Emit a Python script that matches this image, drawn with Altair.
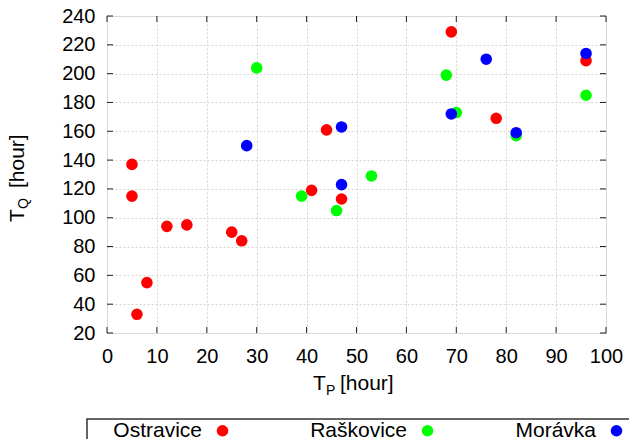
import altair as alt
import pandas as pd

# ---- data ----
ostravice_tp = [5, 5, 6, 8, 12, 16, 25, 27, 41, 44, 47, 69, 78, 96]
ostravice_tq = [137, 115, 33, 55, 94, 95, 90, 84, 119, 161, 113, 229, 169, 209]

raskovice_tp = [30, 39, 46, 53, 68, 70, 82, 96]
raskovice_tq = [204, 115, 105, 129, 199, 173, 157, 185]

moravka_tp = [28, 47, 47, 69, 76, 82, 96]
moravka_tq = [150, 163, 123, 172, 210, 159, 214]

series = ["Ostravice", "Raškovice", "Morávka"]
colors = ["#ff0000", "#00ff00", "#0000ff"]

x_ticks = [0, 10, 20, 30, 40, 50, 60, 70, 80, 90, 100]
y_ticks = [20, 40, 60, 80, 100, 120, 140, 160, 180, 200, 220, 240]

rows = []
for name, xs, ys in [("Ostravice", ostravice_tp, ostravice_tq),
                     ("Raškovice", raskovice_tp, raskovice_tq),
                     ("Morávka", moravka_tp, moravka_tq)]:
    for a, b in zip(xs, ys):
        rows.append({"TP": a, "TQ": b, "station": name})
df = pd.DataFrame(rows)
df["order"] = df["station"].map({s: i for i, s in enumerate(series)})

xt = pd.DataFrame({"TP": x_ticks})
yt = pd.DataFrame({"TQ": y_ticks})
one = pd.DataFrame({"a": [0]})

W, H = 499, 317
FONT = "Liberation Sans"

xscale = alt.Scale(domain=[0, 100], nice=False, zero=False)
yscale = alt.Scale(domain=[20, 240], nice=False, zero=False)

xaxis = alt.Axis(values=x_ticks, title=None, domain=False, ticks=False,
                 labelFontSize=20, labelFont=FONT, labelColor="black",
                 labelPadding=13, grid=True, gridColor="#d4d4d4",
                 gridDash=[2, 2], labelFlush=False, labelOverlap=False,
                 labelBound=False)
yaxis = alt.Axis(values=y_ticks, title=None, domain=False, ticks=False,
                 labelFontSize=20, labelFont=FONT, labelColor="black",
                 labelPadding=12, grid=True, gridColor="#d4d4d4",
                 gridDash=[2, 2], labelFlush=False, labelOverlap=False,
                 labelBound=False)

points = alt.Chart(df).mark_circle(size=135, opacity=1).encode(
    x=alt.X("TP:Q", scale=xscale, axis=xaxis),
    y=alt.Y("TQ:Q", scale=yscale, axis=yaxis),
    color=alt.Color("station:N",
                    scale=alt.Scale(domain=series, range=colors),
                    legend=alt.Legend(
                        title=None, orient="none", direction="horizontal",
                        legendX=105, legendY=404, symbolType="circle",
                        symbolSize=135, symbolStrokeWidth=0,
                        labelFont=FONT, labelFontSize=21, labelColor="black",
                        labelAlign="right", labelOffset={"expr": "-31"},
                        columnPadding=81, padding=0)),
    order=alt.Order("order:Q"),
)

tick_color = "#222222"
bottom_ticks = alt.Chart(xt).mark_rule(color=tick_color).encode(
    x=alt.X("TP:Q", scale=xscale, axis=xaxis), y=alt.value(H), y2=alt.value(H - 6))
top_ticks = alt.Chart(xt).mark_rule(color=tick_color).encode(
    x=alt.X("TP:Q", scale=xscale, axis=xaxis), y=alt.value(0), y2=alt.value(6))
left_ticks = alt.Chart(yt).mark_rule(color=tick_color).encode(
    y=alt.Y("TQ:Q", scale=yscale, axis=yaxis), x=alt.value(0), x2=alt.value(6))
right_ticks = alt.Chart(yt).mark_rule(color=tick_color).encode(
    y=alt.Y("TQ:Q", scale=yscale, axis=yaxis), x=alt.value(W), x2=alt.value(W - 6))

legend_box = alt.Chart(one).mark_rect(fillOpacity=0, stroke="#333333",
                                      strokeWidth=1.5).encode(
    x=alt.value(-20), x2=alt.value(W + 100), y=alt.value(403), y2=alt.value(H + 200))

def txt(s, x, y, size, angle=0):
    return alt.Chart(one).mark_text(text=s, font=FONT, fontSize=size,
                                    align="left", baseline="alphabetic",
                                    angle=angle, color="black").encode(
        x=alt.value(x), y=alt.value(y))

titles = [
    txt("T", 206, 374, 21),
    txt("P", 219, 379, 14),
    txt("[hour]", 233, 374, 21),
    txt("T", -83, 206, 21, 270),
    txt("Q", -79, 193, 14, 270),
    txt("[hour]", -83, 172, 21, 270),
]

chart = alt.layer(points, legend_box, bottom_ticks, top_ticks, left_ticks,
                  right_ticks, *titles).properties(
    width=W, height=H,
    autosize=alt.AutoSizeParams(type="none"),
    padding={"left": 107, "top": 16, "right": 23, "bottom": 106},
).configure_view(stroke="#222222", strokeWidth=1.2).configure(background="white")

chart.save("out.html", embed_options={"renderer": "svg", "actions": False})
